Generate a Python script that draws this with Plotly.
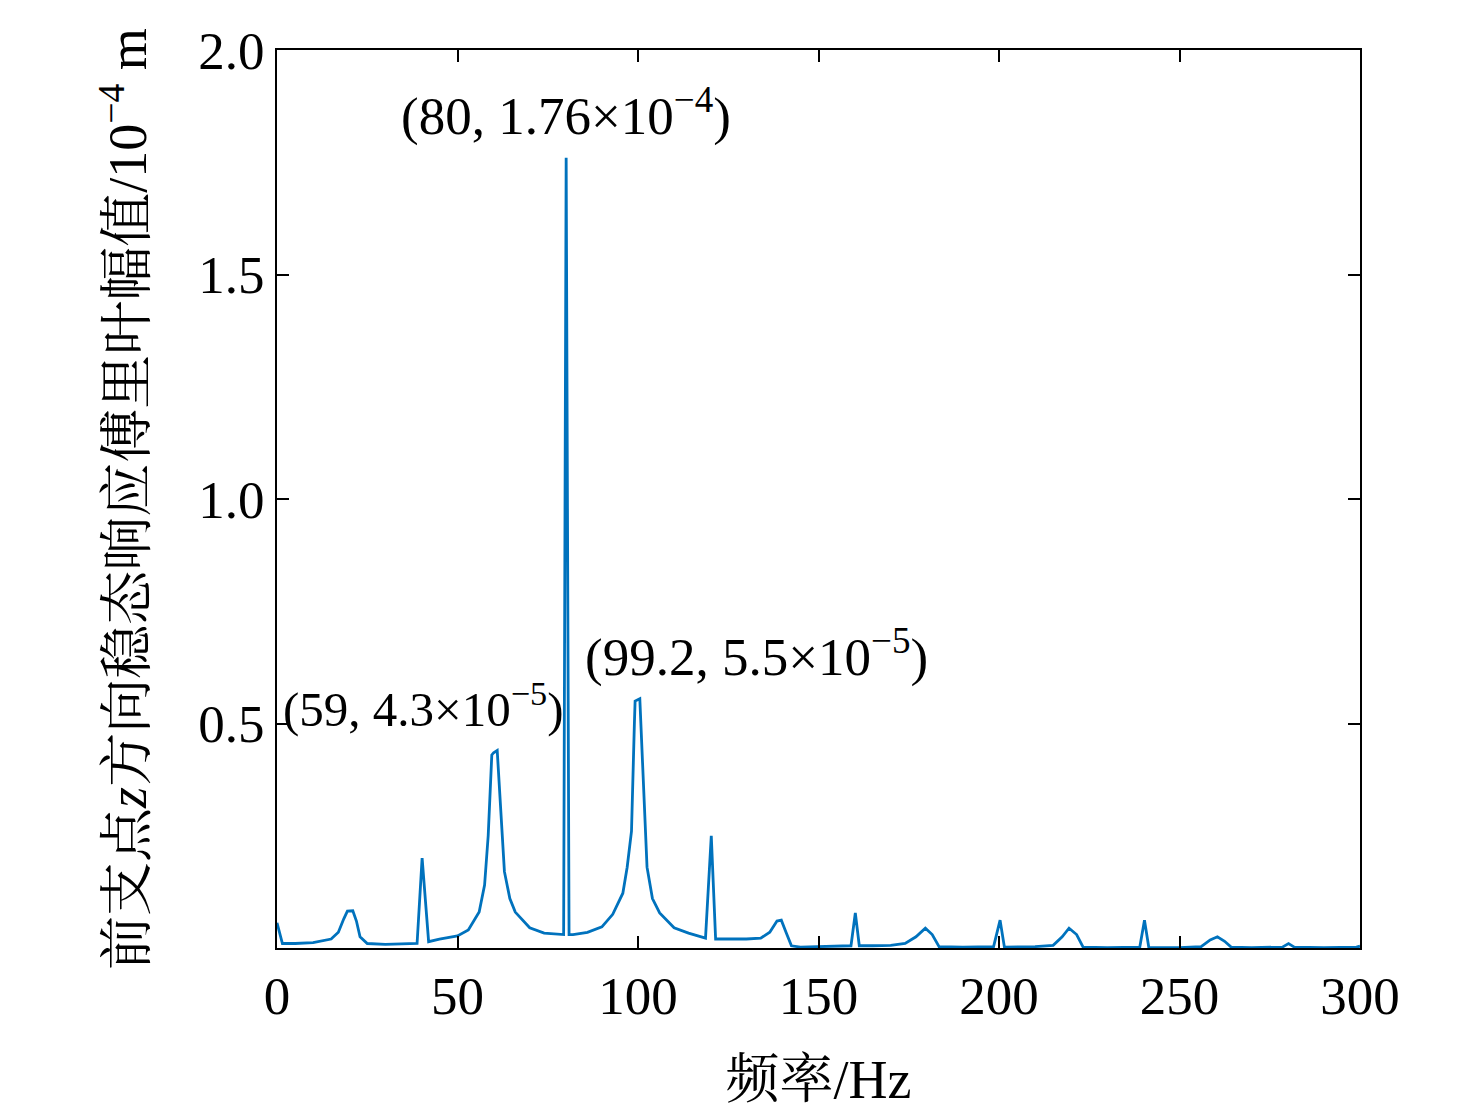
import plotly.graph_objects as go

# ------------------------------------------------------------
# data (frequency in Hz, amplitude in 1e-4 m)
# ------------------------------------------------------------
freq = [
    0, 1.5, 5, 10, 15, 17, 18.5, 19.5, 21, 22, 23, 25, 30, 35, 38.8,
    40.2, 42, 45, 50, 53, 56, 57.5, 58.5, 59.5, 60, 61, 62, 63, 64.5, 66,
    70, 74, 79.4, 80.1, 80.9, 82, 86, 90, 93, 95.8, 97, 98.2, 99, 99.2,
    100.5, 101.3, 102.5, 104, 106, 110, 114, 118.7, 120.3, 121.5, 125,
    130, 134, 136.5, 138.5, 139.7, 141, 142.5, 145, 150, 155, 159, 160.2,
    161.3, 165, 170, 174, 177, 179.6, 181.5, 183.4, 190, 198.5, 200.3,
    201.5, 210, 215, 217.5, 219.4, 221.5, 223.3, 230, 239, 240.3, 241.5,
    250, 256, 258.5, 260.5, 262.5, 264.3, 270, 278.5, 280.2, 281.8, 290,
    299, 300,
]
amp = [
    0.056, 0.010, 0.010, 0.012, 0.020, 0.035, 0.065, 0.082, 0.083, 0.060,
    0.025, 0.010, 0.008, 0.009, 0.010,
    0.200, 0.014, 0.020, 0.027, 0.040, 0.080, 0.140, 0.250, 0.430, 0.435,
    0.440, 0.300, 0.170, 0.110, 0.080,
    0.045, 0.033, 0.030, 1.760, 0.030, 0.030, 0.035, 0.047, 0.075, 0.122,
    0.180, 0.260, 0.500, 0.550,
    0.555, 0.400, 0.180, 0.110, 0.078, 0.045, 0.033, 0.022, 0.250, 0.020,
    0.020,
    0.020, 0.022, 0.035, 0.060, 0.062, 0.035, 0.005, 0.002, 0.003, 0.004,
    0.005, 0.078,
    0.005, 0.005, 0.006, 0.010, 0.025, 0.044, 0.030, 0.003, 0.002, 0.003,
    0.062,
    0.002, 0.003, 0.006, 0.025, 0.044, 0.030, 0.002, 0.001, 0.002, 0.062,
    0.001,
    0.001, 0.003, 0.018, 0.025, 0.015, 0.002, 0.001, 0.002, 0.010, 0.002,
    0.001,
    0.002, 0.004,
]

# peak labels
label_x = [80.1, 40.7, 132.7]
label_y = [1.86, 0.541, 0.655]
label_size = [53, 49, 53]
label_text = [
    '(80, 1.76×10<sup>−4</sup>)',
    '(59, 4.3×10<sup>−5</sup>)',
    '(99.2, 5.5×10<sup>−5</sup>)',
]

x_ticks = [0, 50, 100, 150, 200, 250, 300]
y_ticks = [0.5, 1.0, 1.5, 2.0]
y_tick_text = ['0.5', '1.0', '1.5', '2.0']

FONT = 'Liberation Serif, Times New Roman, Noto Serif CJK SC, Noto Sans CJK SC, serif'

fig = go.Figure()
fig.add_trace(go.Scatter(
    x=freq, y=amp,
    mode='lines',
    line=dict(color='#0072BD', width=2.8),
    showlegend=False,
))

for lx, ly, ls, lt in zip(label_x, label_y, label_size, label_text):
    fig.add_annotation(
        x=lx, y=ly, text=lt, showarrow=False,
        xanchor='center', yanchor='middle',
        font=dict(size=ls, color='black', family=FONT),
    )

# page body adds an 8 px offset, margins are compensated for it
fig.update_layout(
    width=1476, height=1119,
    margin=dict(l=269, r=124, t=42, b=179),
    plot_bgcolor='white',
    paper_bgcolor='white',
    font=dict(family=FONT, size=53, color='black'),
)
fig.update_xaxes(
    range=[0, 300],
    tickvals=x_ticks,
    ticks='inside', ticklen=12, tickwidth=2, tickcolor='black',
    showline=True, linecolor='black', linewidth=2, mirror='ticks',
    showgrid=False, zeroline=False,
    title=dict(text='频率/Hz', standoff=37, font=dict(size=54)),
)
fig.update_yaxes(
    range=[0, 2.0],
    tickvals=y_ticks, ticktext=y_tick_text,
    ticks='inside', ticklen=12, tickwidth=2, tickcolor='black',
    showline=True, linecolor='black', linewidth=2, mirror='ticks',
    showgrid=False, zeroline=False,
    title=dict(text='前支点<i>z</i>方向稳态响应傅里叶幅值/10<sup>−4</sup> m',
               standoff=34, font=dict(size=54)),
)

fig.write_html('out.html')
